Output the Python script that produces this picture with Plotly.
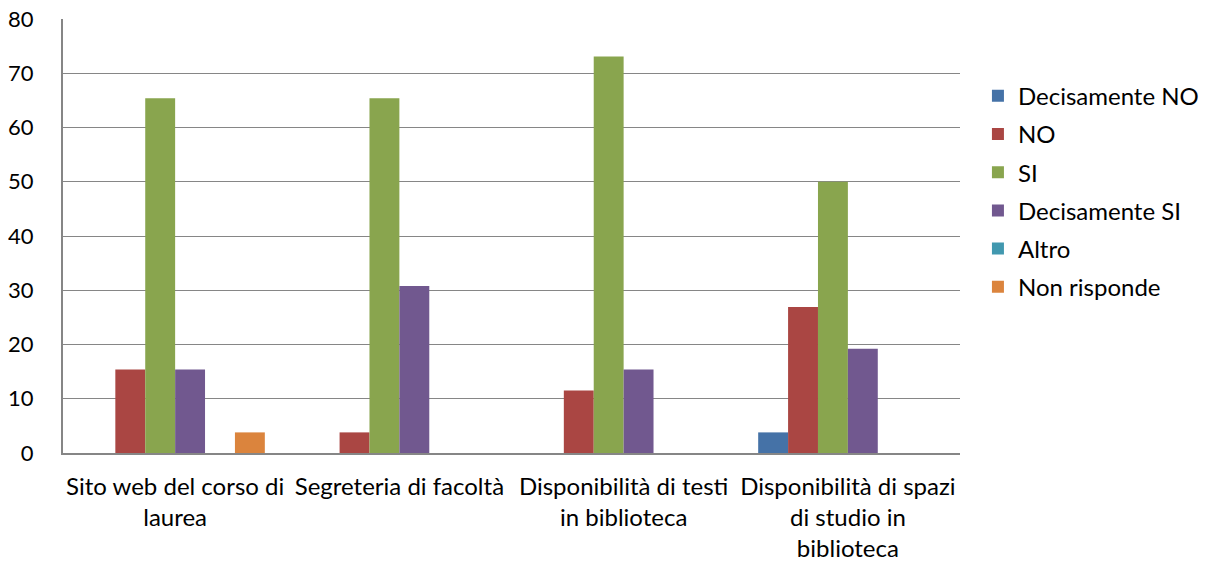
import plotly.graph_objects as go

categories = ["Sito web del corso di<br>laurea", "Segreteria di facoltà",
              "Disponibilità di testi<br>in biblioteca",
              "Disponibilità di spazi<br>di studio in<br>biblioteca"]
series_names = ["Decisamente NO", "NO", "SI", "Decisamente SI", "Altro", "Non risponde"]
dec_no = [0, 0, 0, 3.8]
no = [15.4, 3.8, 11.5, 26.9]
si = [65.4, 65.4, 73.1, 50.0]
dec_si = [15.4, 30.8, 15.4, 19.2]
altro = [0, 0, 0, 0]
non_risponde = [3.8, 0, 0, 0]
y_ticks = [0, 10, 20, 30, 40, 50, 60, 70, 80]

colors = ["#4572A7", "#AA4643", "#89A54E", "#71588F", "#4198AF", "#DB843D"]
values = [dec_no, no, si, dec_si, altro, non_risponde]

FONT = "Lato"
FS = 24
fig = go.Figure()
for name, vals, c in zip(series_names, values, colors):
    fig.add_trace(go.Bar(x=categories, y=vals, name=name, legendgroup=name,
                         marker=dict(color=c, line=dict(width=0))))

# page body has an 8px default margin, so margins compensate for it
fig.update_layout(
    width=1207, height=564,
    margin=dict(l=55, r=250, t=11, b=119),
    paper_bgcolor="white", plot_bgcolor="white",
    barmode="group", bargap=0.2, bargroupgap=0,
    font=dict(family=FONT, size=FS, color="black"),
    legend=dict(x=1.02, y=0.874, xanchor="left", yanchor="top",
                font=dict(family=FONT, size=FS, color="black"),
                itemwidth=30, tracegroupgap=4),
    showlegend=True,
)
fig.update_xaxes(showline=True, linecolor="#868686", linewidth=2, showgrid=False,
                 ticks="", tickfont=dict(size=FS), automargin=False, ticklabelstandoff=11,
                 ticklabeloverflow="allow")
fig.update_yaxes(range=[0, 80], tickvals=y_ticks, showgrid=True, gridcolor="#868686", gridwidth=1,
                 showline=True, linecolor="#868686", linewidth=2, zeroline=False,
                 ticks="", ticklabelstandoff=23, tickfont=dict(size=22), automargin=False,
                 ticklabeloverflow="allow")
fig.write_html("out.html")
